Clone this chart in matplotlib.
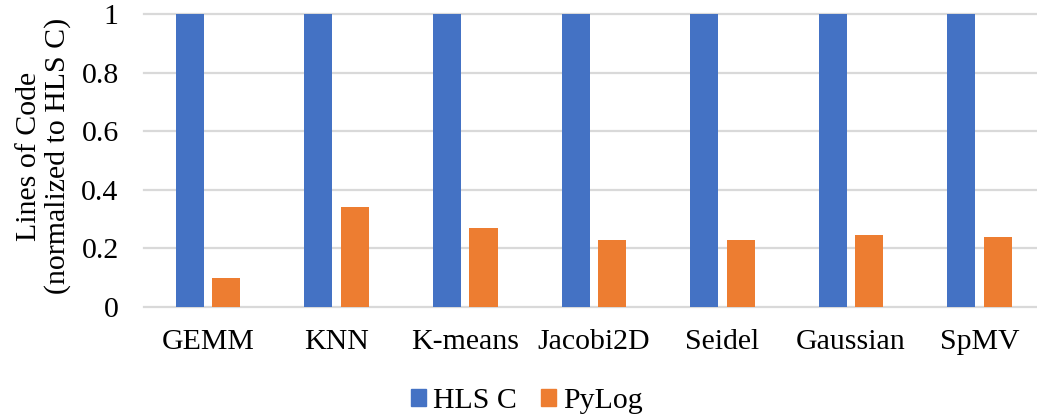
import numpy as np
import matplotlib.pyplot as plt
from matplotlib.patches import Patch

plt.rcParams['font.family'] = ['Liberation Serif', 'DejaVu Serif']

benchmarks = ["GEMM", "KNN", "K-means", "Jacobi2D", "Seidel", "Gaussian", "SpMV"]
hls_c = [1, 1, 1, 1, 1, 1, 1]
pylog = [0.10, 0.34, 0.27, 0.23, 0.23, 0.245, 0.24]
series_names = ["HLS C", "PyLog"]
series_colors = ["#4472C4", "#ED7D31"]
fs = 21.5

fig = plt.figure(figsize=(10.37, 4.18), dpi=100)
# plot area runs slightly past the right edge of the canvas
ax = fig.add_axes([143.7 / 1037, 1 - 307 / 418, (1044 - 143.7) / 1037, (307 - 14.3) / 418])

x = np.arange(len(benchmarks))
w = 0.218
ax.bar(x - 0.142, hls_c, width=w, color=series_colors[0], zorder=3)
ax.bar(x + 0.142, pylog, width=w, color=series_colors[1], zorder=3)

ax.set_xlim(-0.5, len(benchmarks) - 0.5)
ax.set_ylim(0, 1)
ax.set_yticks([0, 0.2, 0.4, 0.6, 0.8, 1])
ax.set_yticklabels(["0", "0.2", "0.4", "0.6", "0.8", "1"])
ax.set_xticks(x)
ax.set_xticklabels(benchmarks)
ax.tick_params(axis='both', length=0, labelsize=fs)
ax.tick_params(axis='y', pad=18)
ax.tick_params(axis='x', pad=16)

for s in ax.spines.values():
    s.set_visible(False)
for v in [0, 0.2, 0.4, 0.6, 0.8, 1]:
    ax.axhline(v, color="#d9d9d9", linewidth=1.6, zorder=1, clip_on=False)

ax.set_ylabel("Lines of Code\n(normalized to HLS C)", fontsize=fs, linespacing=1.1)
ax.yaxis.set_label_coords(-0.081, 0.515)

handles = [Patch(color=c, label=n) for c, n in zip(series_colors, series_names)]
fig.legend(handles=handles, loc='center', bbox_to_anchor=(527 / 1037, 1 - 401 / 418),
           ncol=2, frameon=False, fontsize=fs, handlelength=0.5, handleheight=0.5,
           handletextpad=0.25, columnspacing=0.8)

fig.savefig("out.png", dpi=100)
